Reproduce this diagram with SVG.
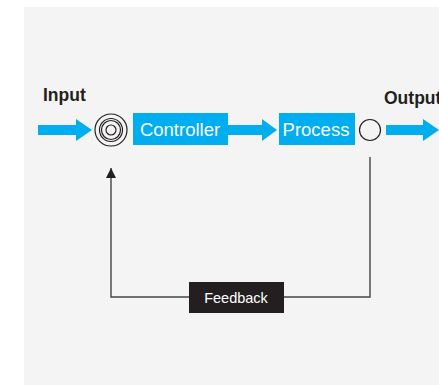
<svg xmlns="http://www.w3.org/2000/svg" width="439" height="385" viewBox="0 0 439 385">
<style>
.blue{fill:#00aeef}
.lbl{font-family:"Liberation Sans",Arial,sans-serif;font-weight:bold;font-size:17.5px;fill:#231f20}
.box{font-family:"Liberation Sans",Arial,sans-serif;font-size:18.5px;fill:#ffffff;text-anchor:middle}
.fb{font-family:"Liberation Sans",Arial,sans-serif;font-size:14.5px;fill:#ffffff;text-anchor:middle}
.ring{fill:none;stroke:#231f20;stroke-width:1.2}
.line{fill:none;stroke:#444;stroke-width:1.4}
</style>
<defs>
<marker id="ah" viewBox="0 0 10 10" refX="10" refY="5" markerWidth="10" markerHeight="10" markerUnits="userSpaceOnUse" orient="auto">
<path d="M0,0 L10,5 L0,10 Z" fill="#231f20"/>
</marker>
</defs>
<rect x="24" y="7" width="415" height="378" fill="#f4f4f4"/>
<g id="connectors">
<path class="blue" d="M38,125 H76 V119 L92,130 L76,141 V135 H38 Z"/>
<path class="blue" d="M228,125 H262 V119 L277,130 L262,141 V135 H228 Z"/>
<path class="blue" d="M386,125 H423 V119 L439,130 L423,141 V135 H386 Z"/>
<path class="line" d="M370,157 V297 H111 V168" marker-end="url(#ah)"/>
</g>
<g id="input-label"><text class="lbl" x="43" y="101">Input</text></g>
<g id="output-label"><text class="lbl" x="384" y="104">Output</text></g>
<g id="summing-junction">
<circle class="ring" cx="111" cy="130" r="16"/>
<circle class="ring" cx="111" cy="130" r="11.5"/>
<circle class="ring" cx="111" cy="130" r="9.5"/>
<circle class="ring" cx="111" cy="130" r="5"/>
</g>
<g id="controller">
<rect class="blue" x="133" y="113" width="95" height="32"/>
<text class="box" x="180" y="135.5">Controller</text>
</g>
<g id="process">
<rect class="blue" x="279" y="113" width="76" height="32"/>
<text class="box" x="316" y="135.5">Process</text>
</g>
<g id="output-node">
<circle class="ring" cx="370" cy="130" r="10.5"/>
</g>
<g id="feedback">
<rect x="189" y="282" width="95" height="31" fill="#231f20"/>
<text class="fb" x="236" y="303">Feedback</text>
</g>
</svg>
